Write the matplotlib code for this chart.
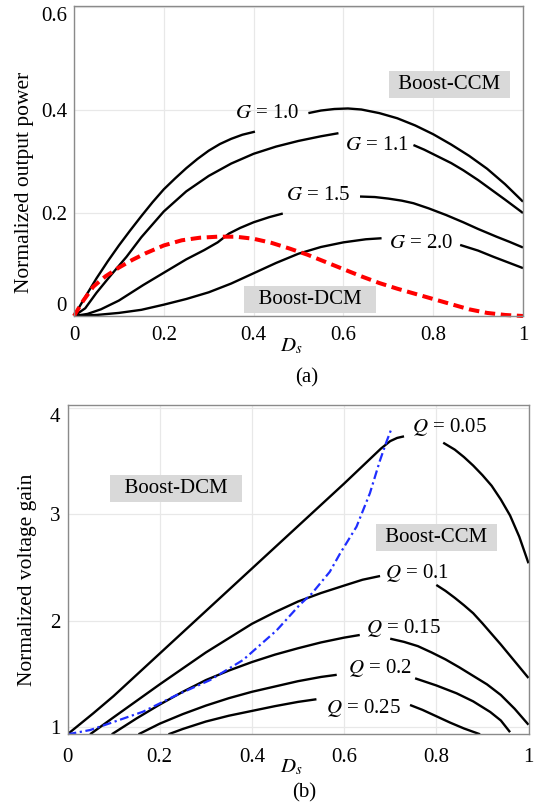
import matplotlib
matplotlib.use('Agg')
import matplotlib.pyplot as plt

plt.rcParams['font.family'] = ['Liberation Serif', 'DejaVu Serif']
plt.rcParams['mathtext.fontset'] = 'stix'

# (a) normalized output power vs Ds, curves split where the labels sit
g10_left_x = [0, 0.025, 0.05, 0.075, 0.1, 0.125, 0.15, 0.175, 0.2, 0.225, 0.25,
              0.275, 0.3, 0.325, 0.35, 0.375, 0.403]
g10_left_y = [0, 0.037, 0.073, 0.106, 0.137, 0.166, 0.194, 0.221, 0.246, 0.267, 0.287,
              0.305, 0.321, 0.334, 0.344, 0.352, 0.358]
g10_right_x = [0.522, 0.55, 0.58, 0.61, 0.64, 0.68, 0.72, 0.76, 0.80, 0.84, 0.88,
               0.92, 0.96, 1.0]
g10_right_y = [0.394, 0.399, 0.402, 0.403, 0.401, 0.394, 0.384, 0.370, 0.353, 0.333, 0.311,
               0.286, 0.256, 0.222]

g11_left_x = [0, 0.025, 0.05, 0.08, 0.117, 0.15, 0.2, 0.25, 0.3, 0.35, 0.4, 0.45,
              0.5, 0.55, 0.589]
g11_left_y = [0, 0.015, 0.045, 0.077, 0.115, 0.153, 0.203, 0.242, 0.272, 0.296, 0.315, 0.329,
              0.34, 0.349, 0.355]
g11_right_x = [0.756, 0.78, 0.81, 0.84, 0.867, 0.9, 0.93, 0.96, 1.0]
g11_right_y = [0.332, 0.323, 0.31, 0.297, 0.283, 0.264, 0.245, 0.226, 0.2]

g15_left_x = [0, 0.03, 0.06, 0.1, 0.154, 0.2, 0.25, 0.29, 0.32, 0.345, 0.37, 0.4,
              0.435, 0.465]
g15_left_y = [0, 0.004, 0.013, 0.03, 0.06, 0.084, 0.11, 0.128, 0.143, 0.16, 0.171, 0.182,
              0.192, 0.199]
g15_right_x = [0.637, 0.67, 0.70, 0.73, 0.756, 0.79, 0.829, 0.867, 0.9, 0.941, 0.97, 1.0]
g15_right_y = [0.232, 0.231, 0.228, 0.224, 0.219, 0.209, 0.196, 0.182, 0.169, 0.154, 0.144,
               0.133]

g20_left_x = [0, 0.05, 0.1, 0.15, 0.2, 0.25, 0.3, 0.35, 0.4, 0.45, 0.5, 0.55, 0.6,
              0.65, 0.685]
g20_left_y = [0, 0.002, 0.006, 0.012, 0.022, 0.033, 0.046, 0.063, 0.083, 0.103, 0.121, 0.134,
              0.143, 0.149, 0.151]
g20_right_x = [0.86, 0.9, 0.934, 0.97, 1.0]
g20_right_y = [0.138, 0.127, 0.115, 0.103, 0.093]

dcm_x = [0, 0.02, 0.043, 0.07, 0.1, 0.13, 0.16, 0.2, 0.24, 0.28, 0.32, 0.36, 0.4,
         0.44, 0.48, 0.52, 0.56, 0.6, 0.64, 0.68, 0.72, 0.76, 0.8, 0.84, 0.88,
         0.92, 0.96, 1.0]
dcm_y = [0, 0.029, 0.057, 0.077, 0.094, 0.109, 0.122, 0.137, 0.147, 0.152, 0.154, 0.154, 0.15,
         0.142, 0.131, 0.119, 0.105, 0.091, 0.077, 0.064, 0.053, 0.043, 0.033, 0.023, 0.013,
         0.006, 0.002, 0]

# (b) normalized voltage gain vs Ds
q005_left_x = [0, 0.056, 0.1, 0.2, 0.3, 0.4, 0.5, 0.6, 0.68, 0.70, 0.715, 0.73]
q005_left_y = [0.93, 1.128, 1.29, 1.69, 2.09, 2.49, 2.89, 3.29, 3.62, 3.69, 3.72, 3.735]
q005_right_x = [0.815, 0.84, 0.86, 0.88, 0.9, 0.92, 0.94, 0.96, 0.98, 1.0]
q005_right_y = [3.675, 3.61, 3.54, 3.46, 3.37, 3.27, 3.14, 2.99, 2.79, 2.54]

q01_left_x = [0.049, 0.1, 0.2, 0.3, 0.4, 0.45, 0.5, 0.55, 0.6, 0.64, 0.678]
q01_left_y = [0.93, 1.09, 1.40, 1.70, 1.97, 2.08, 2.18, 2.26, 2.33, 2.385, 2.42]
q01_right_x = [0.80, 0.82, 0.84, 0.86, 0.88, 0.9, 0.92, 0.94, 0.96, 0.98, 1.0]
q01_right_y = [2.336, 2.28, 2.215, 2.145, 2.07, 1.975, 1.875, 1.775, 1.67, 1.565, 1.46]

q015_left_x = [0.096, 0.15, 0.2, 0.25, 0.3, 0.35, 0.4, 0.45, 0.5, 0.55, 0.6, 0.634]
q015_left_y = [0.93, 1.08, 1.21, 1.33, 1.44, 1.53, 1.61, 1.68, 1.74, 1.795, 1.84, 1.865]
q015_right_x = [0.70, 0.73, 0.76, 0.79, 0.82, 0.85, 0.88, 0.91, 0.94, 0.97, 1.0]
q015_right_y = [1.83, 1.80, 1.76, 1.70, 1.635, 1.56, 1.48, 1.40, 1.30, 1.17, 1.02]

q02_left_x = [0.154, 0.2, 0.25, 0.3, 0.35, 0.4, 0.45, 0.5, 0.55, 0.584]
q02_left_y = [0.93, 1.03, 1.12, 1.20, 1.27, 1.33, 1.38, 1.43, 1.47, 1.49]
q02_right_x = [0.754, 0.80, 0.844, 0.88, 0.917, 0.94, 0.96]
q02_right_y = [1.457, 1.39, 1.316, 1.24, 1.14, 1.06, 0.95]

q025_left_x = [0.219, 0.25, 0.3, 0.35, 0.4, 0.45, 0.5, 0.54]
q025_left_y = [0.93, 0.98, 1.05, 1.105, 1.15, 1.195, 1.235, 1.26]
q025_right_x = [0.743, 0.77, 0.8, 0.83, 0.86, 0.895]
q025_right_y = [1.206, 1.16, 1.10, 1.04, 0.985, 0.93]

bound_x = [0, 0.049, 0.092, 0.164, 0.237, 0.309, 0.381, 0.454, 0.504, 0.53,
           0.569, 0.591, 0.627, 0.656, 0.678, 0.692, 0.703]
bound_y = [0.93, 0.97, 1.034, 1.143, 1.30, 1.44, 1.63, 1.91, 2.15, 2.255,
           2.46, 2.63, 2.885, 3.20, 3.51, 3.685, 3.81]

x_ticks = [0, 0.2, 0.4, 0.6, 0.8, 1]
x_ticklabels = ['0', '0.2', '0.4', '0.6', '0.8', '1']
p_ticks = [0, 0.2, 0.4, 0.6]
p_ticklabels = ['0', '0.2', '0.4', '0.6']
m_ticks = [1, 2, 3, 4]
m_ticklabels = ['1', '2', '3', '4']

G_LABELS = [('$G$ = 1.0', 0.43, 0.394), ('$G$ = 1.1', 0.674, 0.331),
            ('$G$ = 1.5', 0.544, 0.234), ('$G$ = 2.0', 0.773, 0.141)]
Q_LABELS = [('$Q$ = 0.05', 0.828, 3.82), ('$Q$ = 0.1', 0.759, 2.45),
            ('$Q$ = 0.15', 0.729, 1.934), ('$Q$ = 0.2', 0.677, 1.55),
            ('$Q$ = 0.25', 0.642, 1.175)]

FS = 15
LW = 1.7
BOX = dict(boxstyle='square,pad=0.2', fc='#d9d9d9', ec='none')

fig = plt.figure(figsize=(5.38, 8.10), dpi=100)
ax1 = fig.add_axes([74 / 538, 494 / 810, 449 / 538, 310 / 810])
ax2 = fig.add_axes([67.5 / 538, 75.7 / 810, 461 / 538, 329.3 / 810])


def style(ax, xpad):
    ax.grid(True, color='#e8e8e8', lw=0.9)
    ax.set_axisbelow(True)
    for sp in ax.spines.values():
        sp.set_color('#8a8a8a')
        sp.set_linewidth(1.0)
    ax.tick_params(length=0, labelsize=FS, pad=5)
    ax.tick_params(axis='x', pad=xpad)
    ax.set_xticks(x_ticks)
    ax.set_xticklabels(x_ticklabels)
    ax.set_xlim(0, 1)


# ---- (a)
style(ax1, 7)
for xs, ys in [(g10_left_x, g10_left_y), (g10_right_x, g10_right_y),
               (g11_left_x, g11_left_y), (g11_right_x, g11_right_y),
               (g15_left_x, g15_left_y), (g15_right_x, g15_right_y),
               (g20_left_x, g20_left_y), (g20_right_x, g20_right_y)]:
    ax1.plot(xs, ys, color='black', lw=LW, solid_capstyle='butt')
ax1.plot(dcm_x, dcm_y, color='#ff0000', lw=2.9, dashes=(2.6, 1.4), clip_on=False)
ax1.set_ylim(0, 0.602)
ax1.set_yticks(p_ticks)
ax1.set_yticklabels(p_ticklabels)
ticks = ax1.yaxis.get_major_ticks()
ticks[0].label1.set_verticalalignment('bottom')
ticks[-1].label1.set_verticalalignment('top')
for txt, x, y in G_LABELS:
    ax1.text(x, y, txt, fontsize=FS, ha='center', va='center')
ax1.text(0.836, 0.45, ' Boost-CCM ', fontsize=FS, ha='center', va='center', bbox=BOX)
ax1.text(0.526, 0.032, '  Boost-DCM  ', fontsize=FS, ha='center', va='center', bbox=BOX)
ax1.set_ylabel('Normalized output power', fontsize=15.5)
ax1.yaxis.set_label_coords(-0.089, 0.43)
ax1.set_xlabel('$D_s$', fontsize=FS)
ax1.xaxis.set_label_coords(0.485, -0.066)
fig.text(307 / 538, 1 - 378 / 810, '(a)', fontsize=FS, ha='center', va='center')

# ---- (b)
style(ax2, 10)
for xs, ys in [(q005_left_x, q005_left_y), (q005_right_x, q005_right_y),
               (q01_left_x, q01_left_y), (q01_right_x, q01_right_y),
               (q015_left_x, q015_left_y), (q015_right_x, q015_right_y),
               (q02_left_x, q02_left_y), (q02_right_x, q02_right_y),
               (q025_left_x, q025_left_y), (q025_right_x, q025_right_y)]:
    ax2.plot(xs, ys, color='black', lw=LW, solid_capstyle='butt')
ax2.plot(bound_x, bound_y, color='#1f2eff', lw=1.6, dashes=(4, 1.6, 1, 1.6))
ax2.set_ylim(0.93, 4.03)
ax2.set_yticks(m_ticks)
ax2.set_yticklabels(m_ticklabels)
ax2.yaxis.get_major_ticks()[-1].label1.set_verticalalignment('top')
for txt, x, y in Q_LABELS:
    ax2.text(x, y, txt, fontsize=FS, ha='center', va='center')
ax2.text(0.80, 2.785, ' Boost-CCM ', fontsize=FS, ha='center', va='center', bbox=BOX)
ax2.text(0.235, 3.246, '  Boost-DCM  ', fontsize=FS, ha='center', va='center', bbox=BOX)
ax2.set_ylabel('Normalized voltage gain', fontsize=15.5)
ax2.yaxis.set_label_coords(-0.066, 0.469)
ax2.set_xlabel('$D_s$', fontsize=FS)
ax2.xaxis.set_label_coords(0.486, -0.072)
fig.text(303.7 / 538, 1 - 793.3 / 810, '(b)', fontsize=FS, ha='center', va='center')

fig.savefig('out.png', dpi=100)
